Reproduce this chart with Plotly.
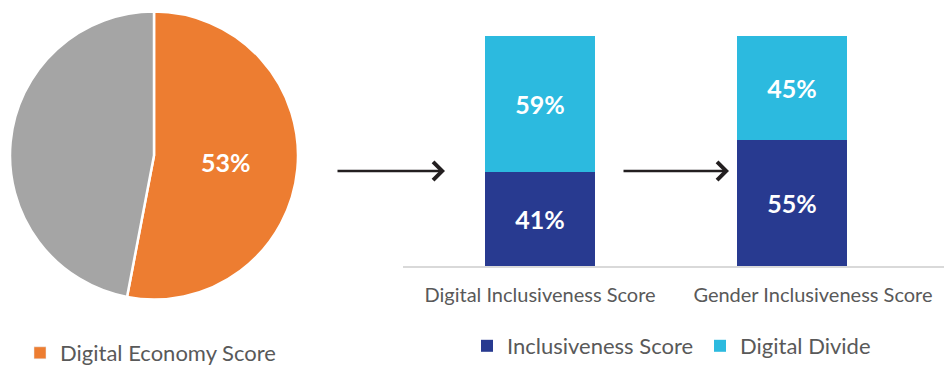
import plotly.graph_objects as go

# --- data -------------------------------------------------------------
pie_labels = ["Digital Economy Score", "Remainder"]
pie_values = [53, 47]

categories = ["Digital Inclusiveness Score", "Gender Inclusiveness Score"]
inclusiveness = [41, 55]
digital_divide = [59, 45]

# --- styling ----------------------------------------------------------
ORANGE = "#ED7D31"
GREY = "#A5A5A5"
NAVY = "#283A90"
CYAN = "#2CBADF"
TEXT = "#595959"
FONT = "Lato"

W, H = 944, 369

fig = go.Figure()

# Pie on the left
fig.add_trace(go.Pie(
    labels=pie_labels,
    values=pie_values,
    sort=False,
    direction="clockwise",
    rotation=0,
    marker=dict(colors=[ORANGE, GREY], line=dict(color="white", width=2.5)),
    texttemplate=["%{value}%", ""],
    textposition="inside",
    insidetextorientation="horizontal",
    textfont=dict(family=FONT, size=25, color="white", weight="bold"),
    domain=dict(x=[10 / W, 298 / W], y=[1 - 300 / H, 1 - 11 / H]),
    showlegend=False,
    hoverinfo="label+value",
))

# Legend entry for the pie's highlighted slice
fig.add_trace(go.Bar(
    x=[None], y=[None],
    name=pie_labels[0],
    marker_color=ORANGE,
    legend="legend",
    showlegend=True,
    hoverinfo="skip",
))

# Stacked bars on the right
xpos = list(range(len(categories)))
bar_text = dict(family=FONT, size=25, color="white", weight="bold")
fig.add_trace(go.Bar(
    x=xpos, y=inclusiveness, name="Inclusiveness Score",
    marker=dict(color=NAVY, line=dict(width=0)),
    width=0.4365,
    texttemplate="%{y}%", textposition="inside", insidetextanchor="middle",
    textangle=0, textfont=bar_text,
    legend="legend2",
))
fig.add_trace(go.Bar(
    x=xpos, y=digital_divide, name="Digital Divide",
    marker=dict(color=CYAN, line=dict(width=0)),
    width=0.4365,
    texttemplate="%{y}%", textposition="inside", insidetextanchor="middle",
    textangle=0, textfont=bar_text,
    legend="legend2",
))

# Flow arrows between the panels
arrow_y = 1 - 171 / H
for x0, x1 in [(336, 445), (622, 729)]:
    fig.add_annotation(
        xref="paper", yref="paper", axref="pixel", ayref="pixel",
        x=x1 / W, y=arrow_y, ax=-(x1 - x0), ay=0,
        text="", showarrow=True,
        arrowhead=4, arrowsize=1.35, arrowwidth=2.6, arrowcolor="#231F20",
    )

fig.update_layout(
    width=W, height=H,
    margin=dict(l=0, r=0, t=0, b=0, autoexpand=False),
    paper_bgcolor="white", plot_bgcolor="white",
    barmode="stack",
    font=dict(family=FONT, color=TEXT),
    xaxis=dict(
        domain=[403 / W, 1],
        range=[-0.5437, 1.603],
        tickvals=[0, 1.083],
        ticktext=categories,
        tickfont=dict(size=20, color=TEXT),
        showline=True, linecolor="#D9D9D9", linewidth=1.5,
        showgrid=False, zeroline=False, ticks="",
        ticklabelstandoff=10,
        fixedrange=True,
    ),
    yaxis=dict(
        domain=[1 - 266 / H, 1 - 36 / H],
        range=[0, 100],
        visible=False,
        fixedrange=True,
    ),
    legend=dict(
        x=20 / W, y=1 - 353 / H, xanchor="left", yanchor="middle",
        orientation="h", font=dict(size=22, color=TEXT),
        bgcolor="rgba(0,0,0,0)",
    ),
    legend2=dict(
        x=467 / W, y=1 - 346 / H, xanchor="left", yanchor="middle",
        orientation="h", traceorder="normal",
        entrywidth=188,
        font=dict(size=22, color=TEXT),
        bgcolor="rgba(0,0,0,0)",
    ),
)

fig.write_html("out.html")
